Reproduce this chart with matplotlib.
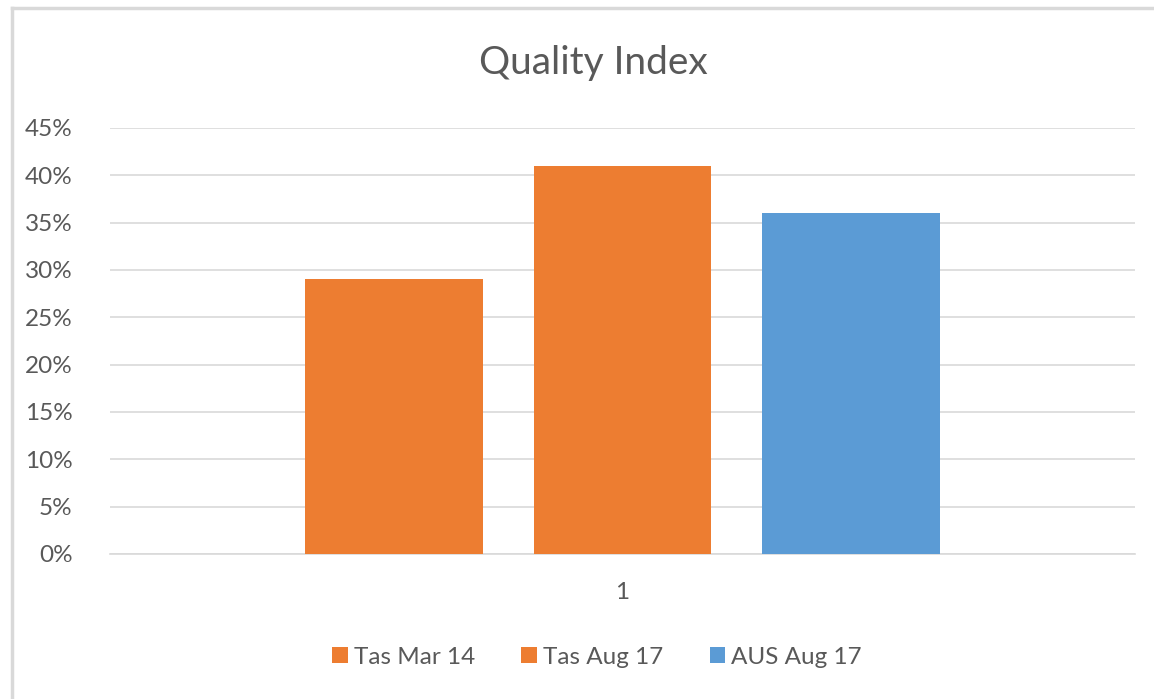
import numpy as np
import matplotlib
matplotlib.use("Agg")
from matplotlib import pyplot as plt
from matplotlib.ticker import PercentFormatter

series = ["Tas Mar 14", "Tas Aug 17", "AUS Aug 17"]
values = [0.29, 0.41, 0.36]
colors = ["#ED7D31", "#ED7D31", "#5B9BD5"]
category = "1"
yticks = np.arange(0, 0.46, 0.05)

plt.rcParams["font.family"] = ["Lato", "DejaVu Sans"]
text_color = "#595959"

fig = plt.figure(figsize=(11.54, 6.99), dpi=100)
ax = fig.add_axes([110 / 1154, 1 - 554 / 699, 1025 / 1154, 426 / 699])

width = 0.173
step = 0.223
for i, (name, v, c) in enumerate(zip(series, values, colors)):
    ax.bar((i - 1) * step, v, width=width, color=c, label=name, zorder=3)

ax.set_xlim(-0.5, 0.5)
ax.set_ylim(0, 0.45)
ax.set_yticks(yticks)
ax.yaxis.set_major_formatter(PercentFormatter(1.0, decimals=0))
ax.set_xticks([0])
ax.set_xticklabels([category])
ax.grid(axis="y", color="#D9D9D9", linewidth=1.2, zorder=0)
for s in ["top", "right", "left"]:
    ax.spines[s].set_visible(False)
ax.spines["bottom"].set_color("#D9D9D9")
ax.spines["bottom"].set_linewidth(1.2)
ax.tick_params(axis="both", length=0, colors=text_color, labelsize=17.5)
ax.tick_params(axis="y", pad=27)
ax.tick_params(axis="x", pad=20)

fig.text(593 / 1154, 1 - 63 / 699, "Quality Index", ha="center", va="center",
         fontsize=28, color=text_color)

fig.legend(loc="center", bbox_to_anchor=(597 / 1154, 1 - 657 / 699), ncol=3,
           frameon=False, fontsize=17.5, handlelength=0.65, handleheight=0.65,
           handletextpad=0.25, columnspacing=1.9, labelcolor=text_color)

# chart area border (left and top edges visible in the crop)
fig.add_artist(plt.Line2D([12 / 1154, 12 / 1154], [0, 1 - 8 / 699],
                          transform=fig.transFigure, color="#D9D9D9", linewidth=2.5))
fig.add_artist(plt.Line2D([12 / 1154, 1], [1 - 8 / 699, 1 - 8 / 699],
                          transform=fig.transFigure, color="#D9D9D9", linewidth=2.5))

fig.savefig("out.png", dpi=100)
